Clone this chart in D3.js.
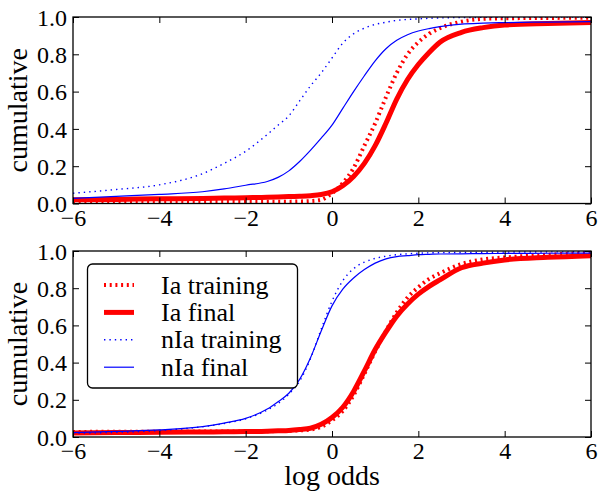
<!DOCTYPE html>
<html>
<head>
<meta charset="utf-8">
<script src="https://cdn.jsdelivr.net/npm/d3@7"></script>
<style>
  html, body { margin: 0; padding: 0; background: #fff; }
  svg { display: block; }
  text { font-family: "Liberation Serif", "Times New Roman", serif; fill: #000; }
</style>
</head>
<body>
<script>
// ---------- data ----------
const xVals = [-6, -5, -4, -3, -2.5, -2, -1.5, -1.25, -1, -0.75, -0.5, -0.25, 0, 0.25, 0.5, 0.75, 1, 1.25, 1.5, 1.75, 2, 2.25, 2.5, 3, 3.5, 4, 5, 6];

// top panel
const topIaTraining  = [0.010, 0.010, 0.010, 0.010, 0.010, 0.010, 0.010, 0.010, 0.010, 0.011, 0.013, 0.020, 0.055, 0.110, 0.190, 0.310, 0.430, 0.570, 0.700, 0.800, 0.865, 0.910, 0.940, 0.975, 0.990, 0.993, 0.995, 0.996];
const topIaFinal     = [0.020, 0.022, 0.025, 0.027, 0.029, 0.031, 0.033, 0.035, 0.037, 0.039, 0.042, 0.048, 0.063, 0.095, 0.145, 0.215, 0.310, 0.430, 0.560, 0.665, 0.745, 0.810, 0.865, 0.918, 0.943, 0.957, 0.965, 0.970];
const topNIaTraining = [0.055, 0.075, 0.100, 0.160, 0.215, 0.280, 0.370, 0.420, 0.470, 0.550, 0.630, 0.700, 0.780, 0.860, 0.910, 0.940, 0.960, 0.972, 0.982, 0.987, 0.990, 0.993, 0.995, 0.997, 0.998, 0.999, 1.000, 1.000];
const topNIaFinal    = [0.028, 0.038, 0.049, 0.063, 0.078, 0.098, 0.118, 0.140, 0.175, 0.225, 0.285, 0.350, 0.420, 0.510, 0.600, 0.685, 0.765, 0.830, 0.875, 0.905, 0.925, 0.938, 0.948, 0.962, 0.967, 0.970, 0.973, 0.975];

// bottom panel
const botIaTraining  = [0.027, 0.028, 0.028, 0.029, 0.029, 0.030, 0.031, 0.032, 0.033, 0.036, 0.040, 0.055, 0.090, 0.140, 0.225, 0.340, 0.460, 0.570, 0.670, 0.750, 0.805, 0.850, 0.880, 0.930, 0.955, 0.965, 0.980, 0.990];
const botIaFinal     = [0.022, 0.024, 0.025, 0.027, 0.028, 0.029, 0.031, 0.033, 0.035, 0.040, 0.047, 0.068, 0.105, 0.160, 0.245, 0.355, 0.470, 0.565, 0.650, 0.715, 0.768, 0.810, 0.845, 0.910, 0.935, 0.952, 0.966, 0.975];
const botNIaTraining = [0.020, 0.025, 0.035, 0.055, 0.072, 0.098, 0.145, 0.180, 0.230, 0.300, 0.420, 0.580, 0.730, 0.840, 0.905, 0.940, 0.960, 0.972, 0.980, 0.985, 0.988, 0.990, 0.991, 0.992, 0.993, 0.994, 0.995, 0.996];
const botNIaFinal    = [0.023, 0.030, 0.038, 0.056, 0.075, 0.100, 0.150, 0.190, 0.235, 0.310, 0.425, 0.570, 0.705, 0.795, 0.855, 0.900, 0.935, 0.958, 0.970, 0.975, 0.980, 0.982, 0.984, 0.985, 0.986, 0.987, 0.988, 0.989];

const seriesNames = ["Ia training", "Ia final", "nIa training", "nIa final"];
const xTicks = [-6, -4, -2, 0, 2, 4, 6];
const yTicks = [0.0, 0.2, 0.4, 0.6, 0.8, 1.0];
const xLabel = "log odds";
const yLabel = "cumulative";

// ---------- styles ----------
const styles = [
  { color: "#ff0000", width: 4,   dash: "2,3.7" },
  { color: "#ff0000", width: 5,   dash: null },
  { color: "#0000ff", width: 1.4, dash: "1.4,4" },
  { color: "#0000ff", width: 1.2, dash: null }
];

const W = 599, H = 494;
const svg = d3.select("body").append("svg").attr("width", W).attr("height", H);

const x = d3.scaleLinear().domain([-6, 6]).range([73, 591]);
const fmtX = d => (d < 0 ? "\u2212" + Math.abs(d) : String(d));
const fmtY = d => d.toFixed(1);

const panels = [
  { top: 17, bottom: 203.5, data: [topIaTraining, topIaFinal, topNIaTraining, topNIaFinal], xlabel: false, legend: false },
  { top: 251, bottom: 437, data: [botIaTraining, botIaFinal, botNIaTraining, botNIaFinal], xlabel: true, legend: true }
];

panels.forEach((p, pi) => {
  const y = d3.scaleLinear().domain([0, 1]).range([p.bottom, p.top]);
  const g = svg.append("g");
  const clipId = "clip" + pi;
  g.append("clipPath").attr("id", clipId).append("rect")
    .attr("x", x(-6)).attr("y", p.top).attr("width", x(6) - x(-6)).attr("height", p.bottom - p.top);

  const line = d3.line().x((d, i) => x(xVals[i])).y(d => y(d)).curve(d3.curveMonotoneX);
  const lg = g.append("g").attr("clip-path", `url(#${clipId})`);
  p.data.forEach((arr, si) => {
    const s = styles[si];
    lg.append("path").attr("d", line(arr))
      .attr("fill", "none").attr("stroke", s.color).attr("stroke-width", s.width)
      .attr("stroke-dasharray", s.dash).attr("stroke-linejoin", "round");
  });

  // axes (inward ticks)
  const axB = g.append("g").attr("transform", `translate(0,${p.bottom})`)
    .call(d3.axisBottom(x).tickValues(xTicks).tickSize(-6).tickFormat(fmtX));
  axB.selectAll("text").attr("y", 22).attr("dy", null).style("font-size", "24px");
  const axT = g.append("g").attr("transform", `translate(0,${p.top})`)
    .call(d3.axisTop(x).tickValues(xTicks).tickSize(-6).tickFormat(""));
  const axL = g.append("g").attr("transform", `translate(${x(-6)},0)`)
    .call(d3.axisLeft(y).tickValues(yTicks).tickSize(-6).tickPadding(6).tickFormat(fmtY));
  axL.selectAll("text").attr("x", -6).attr("dy", "0.34em").style("font-size", "24px");
  const axR = g.append("g").attr("transform", `translate(${x(6)},0)`)
    .call(d3.axisRight(y).tickValues(yTicks).tickSize(-6).tickFormat(""));
  [axB, axT, axL, axR].forEach(a => {
    a.select(".domain").remove();
    a.selectAll(".tick line").attr("stroke", "#000").attr("stroke-width", 1);
    a.attr("font-family", null).attr("font-size", null);
  });

  g.append("rect").attr("x", x(-6)).attr("y", p.top)
    .attr("width", x(6) - x(-6)).attr("height", p.bottom - p.top)
    .attr("fill", "none").attr("stroke", "#000").attr("stroke-width", 1.3);

  // y label
  svg.append("text")
    .attr("transform", `translate(27,${(p.top + p.bottom) / 2}) rotate(-90)`)
    .attr("text-anchor", "middle").style("font-size", "28px").text(yLabel);

  if (p.xlabel) {
    svg.append("text").attr("x", x(0)).attr("y", 485)
      .attr("text-anchor", "middle").style("font-size", "28px").text(xLabel);
  }

  if (p.legend) {
    const leg = svg.append("g");
    leg.append("rect").attr("x", 87.5).attr("y", 264).attr("width", 210).attr("height", 124)
      .attr("rx", 5).attr("ry", 5).attr("fill", "#fff").attr("stroke", "#000").attr("stroke-width", 1.3);
    seriesNames.forEach((name, i) => {
      const cy = 285 + i * 27.4;
      const s = styles[i];
      leg.append("line").attr("x1", 104).attr("x2", 134).attr("y1", cy).attr("y2", cy)
        .attr("stroke", s.color).attr("stroke-width", s.width).attr("stroke-dasharray", s.dash);
      leg.append("text").attr("x", 161).attr("y", cy + 8.5).style("font-size", "26px").text(name);
    });
  }
});
</script>
</body>
</html>
